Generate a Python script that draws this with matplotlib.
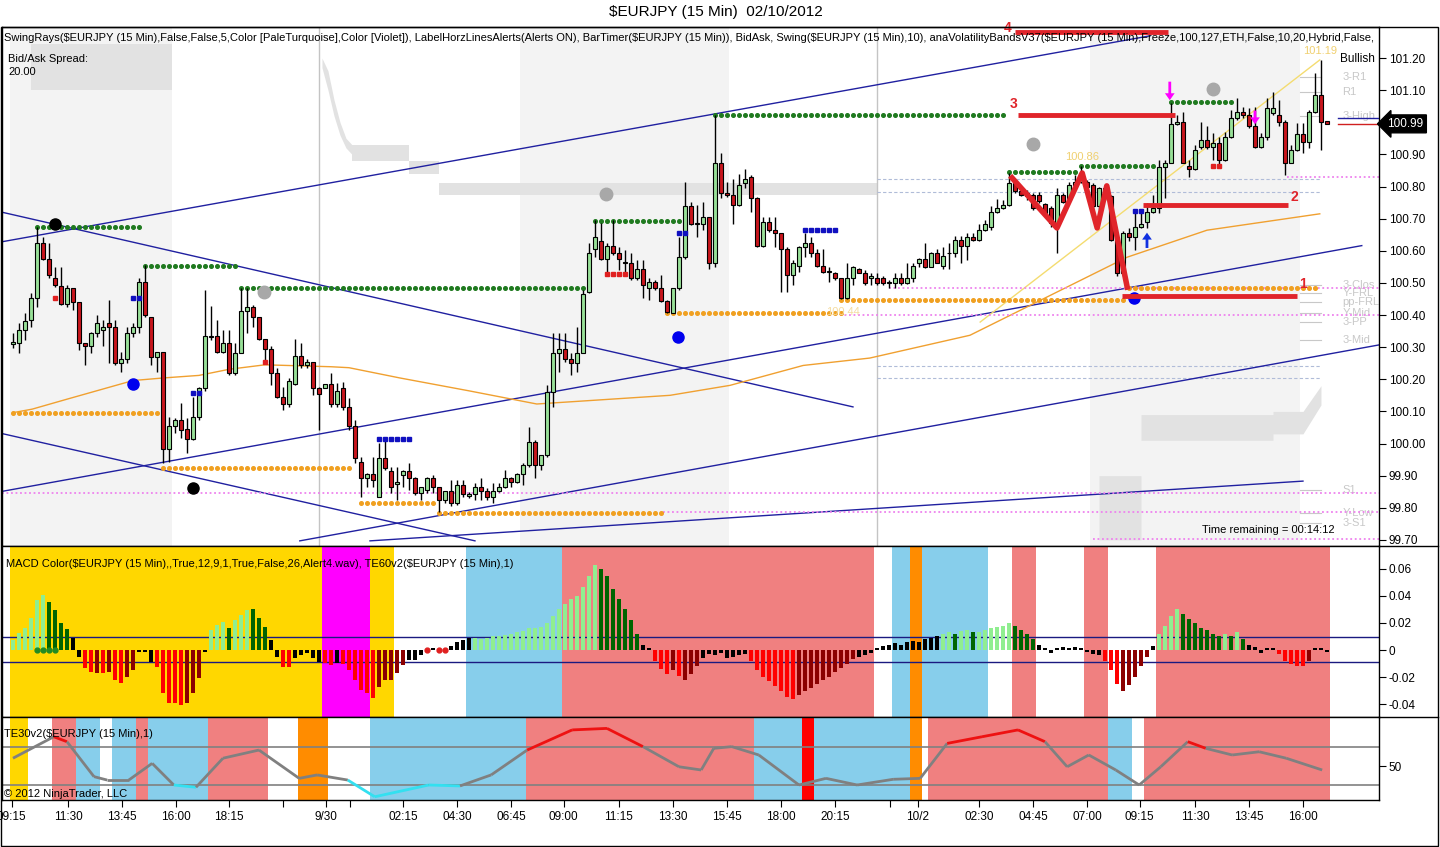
import matplotlib.pyplot as plt
import numpy as np
from matplotlib.collections import LineCollection
from matplotlib.patches import Rectangle
import matplotlib.transforms as mtransforms

plt.rcParams['font.family'] = ['Liberation Sans', 'DejaVu Sans']

W, H = 1440, 847  # Bildgroesse in Pixel

# ---------------- Kerzen (15 Min, EURJPY) ----------------
opens = [
    100.310, 100.312, 100.353, 100.385, 100.452, 100.625, 100.573, 100.514, 100.490, 100.434,
    100.483, 100.442, 100.312, 100.302, 100.343, 100.353, 100.374, 100.364, 100.252, 100.262,
    100.343, 100.364, 100.504, 100.395, 100.270, 100.286, 99.982, 100.053, 100.073, 100.044,
    100.013, 100.082, 100.172, 100.333, 100.335, 100.286, 100.312, 100.221, 100.283, 100.411,
    100.424, 100.393, 100.324, 100.293, 100.221, 100.144, 100.123, 100.184, 100.273, 100.245,
    100.255, 100.172, 100.172, 100.184, 100.123, 100.172, 100.113, 100.053, 99.944, 99.892,
    99.905, 99.835, 99.954, 99.913, 99.874, 99.902, 99.913, 99.892, 99.845, 99.856,
    99.892, 99.864, 99.824, 99.853, 99.814, 99.871, 99.837, 99.843, 99.864, 99.853,
    99.835, 99.853, 99.864, 99.892, 99.881, 99.905, 99.933, 100.006, 99.933, 99.964,
    100.161, 100.283, 100.293, 100.262, 100.252, 100.283, 100.472, 100.604, 100.631, 100.573,
    100.615, 100.592, 100.566, 100.563, 100.514, 100.542, 100.483, 100.504, 100.483, 100.445,
    100.405, 100.483, 100.581, 100.739, 100.683, 100.683, 100.704, 100.563, 100.872, 100.781,
    100.773, 100.742, 100.812, 100.830, 100.763, 100.615, 100.690, 100.664, 100.654, 100.604,
    100.524, 100.552, 100.613, 100.623, 100.592, 100.552, 100.535, 100.532, 100.514, 100.452,
    100.514, 100.542, 100.532, 100.514, 100.514, 100.514, 100.501, 100.501, 100.514, 100.501,
    100.514, 100.563, 100.573, 100.550, 100.592, 100.552, 100.592, 100.592, 100.633, 100.615,
    100.642, 100.634, 100.665, 100.675, 100.722, 100.732, 100.743, 100.812, 100.787, 100.779,
    100.774, 100.774, 100.745, 100.732, 100.686, 100.774, 100.758, 100.805, 100.815, 100.815,
    100.805, 100.738, 100.795, 100.769, 100.634, 100.530, 100.655, 100.642, 100.675, 100.691,
    100.722, 100.732, 100.862, 100.872, 100.995, 101.002, 100.864, 100.854, 100.922, 100.945,
    100.922, 100.935, 100.883, 100.953, 101.012, 101.033, 101.023, 100.987, 100.922, 100.953,
    101.028, 101.023, 101.002, 100.872, 100.914, 100.964, 100.937, 101.033, 101.085, 101.004]
highs = [
    100.343, 100.374, 100.405, 100.468, 100.675, 100.644, 100.623, 100.551, 100.551, 100.493,
    100.483, 100.442, 100.312, 100.348, 100.400, 100.385, 100.447, 100.385, 100.286, 100.364,
    100.374, 100.514, 100.556, 100.395, 100.286, 100.286, 100.084, 100.079, 100.125, 100.079,
    100.146, 100.177, 100.478, 100.428, 100.385, 100.353, 100.353, 100.312, 100.483, 100.483,
    100.431, 100.395, 100.324, 100.302, 100.234, 100.177, 100.203, 100.324, 100.312, 100.262,
    100.255, 100.177, 100.184, 100.221, 100.187, 100.193, 100.141, 100.073, 99.959, 99.907,
    99.959, 100.001, 100.011, 99.928, 99.928, 99.918, 99.939, 99.897, 99.864, 99.897,
    99.902, 99.864, 99.853, 99.887, 99.887, 99.887, 99.850, 99.876, 99.892, 99.861,
    99.876, 99.876, 99.918, 99.897, 99.909, 99.938, 100.052, 100.011, 99.964, 100.182,
    100.343, 100.343, 100.343, 100.281, 100.364, 100.478, 100.623, 100.696, 100.685, 100.623,
    100.696, 100.613, 100.602, 100.592, 100.571, 100.571, 100.514, 100.509, 100.524, 100.447,
    100.483, 100.644, 100.815, 100.753, 100.742, 100.753, 100.704, 101.022, 100.903, 100.815,
    100.822, 100.839, 100.853, 100.836, 100.768, 100.706, 100.706, 100.704, 100.654, 100.613,
    100.571, 100.615, 100.656, 100.642, 100.604, 100.604, 100.550, 100.535, 100.514, 100.563,
    100.552, 100.545, 100.540, 100.530, 100.530, 100.521, 100.509, 100.532, 100.530, 100.563,
    100.563, 100.576, 100.623, 100.597, 100.607, 100.613, 100.623, 100.646, 100.646, 100.654,
    100.655, 100.684, 100.696, 100.740, 100.760, 100.758, 100.841, 100.815, 100.795, 100.790,
    100.779, 100.784, 100.750, 100.738, 100.795, 100.779, 100.815, 100.836, 100.864, 100.820,
    100.810, 100.800, 100.802, 100.774, 100.655, 100.660, 100.670, 100.722, 100.722, 100.748,
    100.774, 100.883, 100.883, 101.059, 101.023, 101.033, 100.883, 100.930, 101.002, 100.987,
    100.966, 100.955, 100.971, 101.038, 101.075, 101.049, 101.044, 101.049, 100.966, 101.075,
    101.095, 101.070, 101.007, 100.930, 100.997, 100.997, 101.038, 101.152, 101.194, 101.004]
lows = [
    100.296, 100.283, 100.322, 100.364, 100.426, 100.571, 100.514, 100.488, 100.431, 100.426,
    100.416, 100.291, 100.245, 100.281, 100.333, 100.302, 100.250, 100.245, 100.224, 100.250,
    100.333, 100.343, 100.395, 100.245, 100.224, 99.939, 99.944, 100.032, 100.016, 99.970,
    100.011, 100.073, 100.162, 100.322, 100.281, 100.281, 100.213, 100.213, 100.281, 100.343,
    100.364, 100.322, 100.260, 100.182, 100.141, 100.105, 100.115, 100.182, 100.234, 100.234,
    100.151, 100.042, 100.172, 100.115, 100.115, 100.105, 100.042, 99.939, 99.835, 99.866,
    99.866, 99.835, 99.918, 99.845, 99.824, 99.866, 99.856, 99.840, 99.824, 99.845,
    99.845, 99.788, 99.814, 99.804, 99.809, 99.835, 99.829, 99.824, 99.824, 99.824,
    99.814, 99.850, 99.861, 99.866, 99.876, 99.871, 99.928, 99.892, 99.918, 99.959,
    100.115, 100.224, 100.255, 100.213, 100.224, 100.281, 100.467, 100.581, 100.571, 100.535,
    100.587, 100.540, 100.530, 100.509, 100.509, 100.452, 100.447, 100.478, 100.441, 100.405,
    100.405, 100.478, 100.573, 100.680, 100.644, 100.664, 100.542, 100.550, 100.763, 100.768,
    100.683, 100.739, 100.794, 100.722, 100.613, 100.613, 100.659, 100.613, 100.472, 100.472,
    100.493, 100.535, 100.581, 100.581, 100.550, 100.530, 100.504, 100.509, 100.449, 100.449,
    100.493, 100.530, 100.493, 100.493, 100.493, 100.493, 100.483, 100.483, 100.493, 100.498,
    100.504, 100.550, 100.545, 100.550, 100.561, 100.542, 100.542, 100.581, 100.563, 100.571,
    100.629, 100.629, 100.663, 100.665, 100.719, 100.730, 100.738, 100.779, 100.769, 100.758,
    100.727, 100.748, 100.707, 100.675, 100.592, 100.748, 100.753, 100.800, 100.810, 100.795,
    100.732, 100.727, 100.758, 100.629, 100.520, 100.520, 100.629, 100.603, 100.670, 100.670,
    100.717, 100.717, 100.763, 100.872, 100.992, 100.872, 100.831, 100.852, 100.916, 100.916,
    100.883, 100.857, 100.878, 100.950, 101.007, 101.012, 100.982, 100.919, 100.919, 100.945,
    101.023, 100.987, 100.836, 100.872, 100.909, 100.904, 100.919, 101.030, 100.914, 100.995]
closes = [
    100.315, 100.353, 100.382, 100.452, 100.625, 100.573, 100.525, 100.493, 100.434, 100.483,
    100.442, 100.312, 100.302, 100.343, 100.374, 100.364, 100.362, 100.252, 100.262, 100.343,
    100.364, 100.504, 100.400, 100.270, 100.286, 99.982, 100.053, 100.073, 100.042, 100.013,
    100.084, 100.172, 100.335, 100.335, 100.286, 100.312, 100.221, 100.283, 100.411, 100.424,
    100.393, 100.324, 100.293, 100.221, 100.144, 100.123, 100.195, 100.273, 100.245, 100.255,
    100.172, 100.154, 100.184, 100.123, 100.164, 100.113, 100.053, 99.954, 99.892, 99.905,
    99.887, 99.954, 99.923, 99.866, 99.881, 99.913, 99.892, 99.845, 99.864, 99.892,
    99.864, 99.824, 99.853, 99.814, 99.871, 99.843, 99.843, 99.864, 99.853, 99.835,
    99.853, 99.866, 99.892, 99.881, 99.905, 99.933, 100.006, 99.933, 99.964, 100.161,
    100.283, 100.293, 100.262, 100.252, 100.283, 100.465, 100.592, 100.642, 100.573, 100.615,
    100.592, 100.573, 100.561, 100.514, 100.542, 100.493, 100.504, 100.483, 100.445, 100.410,
    100.483, 100.581, 100.739, 100.683, 100.684, 100.704, 100.563, 100.872, 100.781, 100.773,
    100.742, 100.805, 100.822, 100.763, 100.615, 100.690, 100.664, 100.656, 100.604, 100.524,
    100.563, 100.613, 100.623, 100.592, 100.552, 100.535, 100.536, 100.514, 100.452, 100.514,
    100.550, 100.532, 100.501, 100.521, 100.501, 100.501, 100.502, 100.514, 100.501, 100.514,
    100.552, 100.573, 100.550, 100.592, 100.563, 100.584, 100.593, 100.633, 100.615, 100.644,
    100.634, 100.665, 100.684, 100.722, 100.732, 100.743, 100.812, 100.787, 100.774, 100.769,
    100.732, 100.756, 100.717, 100.686, 100.774, 100.753, 100.805, 100.815, 100.841, 100.800,
    100.738, 100.795, 100.769, 100.634, 100.530, 100.655, 100.642, 100.675, 100.683, 100.722,
    100.732, 100.862, 100.872, 100.995, 101.002, 100.872, 100.854, 100.914, 100.945, 100.922,
    100.935, 100.883, 100.953, 101.012, 101.033, 101.023, 100.987, 100.922, 100.953, 101.044,
    101.044, 101.002, 100.872, 100.914, 100.964, 100.937, 101.033, 101.085, 101.002, 100.995]

# ---------------- MACD Histogramm ----------------
macd = [
    0.0074, 0.0123, 0.016, 0.0235, 0.037, 0.0407, 0.0358, 0.0296, 0.0198, 0.0153,
    0.0086, -0.0049, -0.0136, -0.016, -0.0173, -0.0173, -0.016, -0.0222, -0.0247, -0.0198,
    -0.0148, -0.0015, -0.0005, -0.0086, -0.0123, -0.032, -0.0395, -0.0395, -0.0407, -0.0395,
    -0.032, -0.021, -0.0007, 0.0148, 0.0185, 0.021, 0.016, 0.0222, 0.0259, 0.0296,
    0.0301, 0.0235, 0.0168, 0.0074, -0.0049, -0.0123, -0.0123, -0.0062, -0.0037, -0.002,
    -0.0062, -0.0086, -0.0099, -0.0111, -0.0094, -0.0104, -0.0148, -0.0222, -0.0296, -0.032,
    -0.0358, -0.0272, -0.0222, -0.0222, -0.0173, -0.0111, -0.0074, -0.0074, -0.0037, -0.0005,
    0.0012, -0.0007, -0.0007, 0.003, 0.0062, 0.0074, 0.0086, 0.0086, 0.008, 0.009,
    0.010, 0.010, 0.011, 0.012, 0.013, 0.014, 0.016, 0.016, 0.017, 0.020,
    0.025, 0.030, 0.034, 0.038, 0.040, 0.047, 0.055, 0.063, 0.060, 0.055,
    0.045, 0.038, 0.030, 0.022, 0.012, 0.004, 0.001, -0.008, -0.014, -0.018,
    -0.015, -0.019, -0.022, -0.018, -0.012, -0.006, -0.003, -0.004, -0.002, -0.006,
    -0.005, -0.004, -0.003, -0.008, -0.015, -0.020, -0.023, -0.027, -0.030, -0.035,
    -0.036, -0.033, -0.030, -0.028, -0.025, -0.022, -0.020, -0.016, -0.013, -0.010,
    -0.007, -0.005, -0.004, -0.002, 0.001, 0.003, 0.004, 0.005, 0.004, 0.006,
    0.007, 0.006, 0.008, 0.009, 0.010, 0.012, 0.013, 0.012, 0.014, 0.015,
    0.013, 0.013, 0.015, 0.016, 0.017, 0.018, 0.020, 0.018, 0.015, 0.012,
    0.008, 0.004, 0.001, -0.002, 0.001, 0.002, 0.001, 0.002, 0.001, -0.001,
    -0.003, -0.004, -0.008, -0.015, -0.025, -0.030, -0.026, -0.020, -0.012, -0.005,
    0.003, 0.012, 0.018, 0.025, 0.030, 0.027, 0.023, 0.020, 0.016, 0.015,
    0.012, 0.010, 0.012, 0.010, 0.013, 0.008, 0.004, 0.002, -0.002, 0.001,
    0.001, -0.003, -0.008, -0.010, -0.012, -0.012, -0.008, 0.001, 0.001, -0.001]
# g hellgruen, G dunkelgruen, r rot, R dunkelrot, k schwarz
macd_col = ("ggggggGGGG" "kkrrRrRrrR" "RkkkrrrrrR" "RRkgggGggg" "GGGkkrrkkk"
            "kkrrkrrrrr" "rRRRRRkkkr" "krrkkkkg" "gg" "gggggggggg"
            "ggggggggGG" "GGGGGkkrrr" "RrRRRkkkkk" "kkkrrrrrrr" "rRRRRRRRRR"
            "Rkkkkkkkkk" "kkkkkggGgg" "GggggggGGG" "Gkkkkkkkkk" "kkrrrRRRRR"
            "kggggGGGGG" "GGgGgGkkkk" "krrrrrRkkk")
macd_dots_green = [4, 5, 6, 7]
macd_dots_red = [69, 71, 72]

# Hintergrund-Zustaende (Balkenindex von, bis, Farbe)
macd_bg = [(-0.5, 51.5, '#FFD700'), (51.5, 59.5, '#FF00FF'), (59.5, 63.5, '#FFD700'),
           (75.5, 91.5, '#87CEEB'), (91.5, 143.5, '#F08080'), (146.5, 149.5, '#87CEEB'),
           (149.5, 151.5, '#FF8C00'), (151.5, 162.5, '#87CEEB'), (166.5, 170.5, '#F08080'),
           (178.5, 182.5, '#F08080'), (190.5, 219.5, '#F08080')]
te_bg = [(-0.5, 2.5, '#FFD700'), (6.5, 10.5, '#F08080'), (10.5, 14.5, '#87CEEB'),
         (16.5, 20.5, '#87CEEB'), (20.5, 22.5, '#F08080'), (22.5, 32.5, '#87CEEB'),
         (32.5, 42.5, '#F08080'), (47.5, 52.5, '#FF8C00'), (59.5, 85.5, '#87CEEB'),
         (85.5, 123.5, '#F08080'), (123.5, 131.5, '#87CEEB'), (131.5, 133.5, '#FF0000'),
         (133.5, 149.5, '#87CEEB'), (149.5, 151.5, '#FF8C00'), (152.5, 182.5, '#F08080'),
         (182.5, 186.5, '#87CEEB'), (188.5, 219.5, '#F08080')]

# TE30 Linie (Stuetzpunkte)
te_x = [0, 6.8, 9, 13.5, 15.7, 19.3, 23.2, 26.8, 30.5, 35, 41, 47.7, 50.7, 55.8, 60.3,
        69.3, 74.5, 79.7, 85.7, 93.2, 99, 105, 111, 114.7, 116.8, 119.8, 124.3, 131,
        135.5, 140.7, 146.7, 151.2, 155.7, 161.5, 167.5, 172, 175.7, 179.3, 183.8,
        187.7, 191.3, 195.8, 198.8, 203.2, 207.7, 212.2, 218.2]
te_v = [54.1, 65.4, 62.8, 44.4, 42.6, 42.6, 51.4, 40.0, 38.8, 54.1, 58.4, 43.5, 45.3,
        42.6, 33.8, 40.0, 39.5, 45.3, 58.4, 69.0, 69.8, 60.2, 49.6, 47.9, 59.3, 60.2,
        55.8, 40.0, 43.5, 40.0, 43.0, 43.5, 61.9, 65.4, 69.0, 62.8, 49.6, 55.8, 47.9,
        40.0, 49.6, 62.8, 59.3, 55.8, 57.5, 54.1, 47.9]

# gleitender Durchschnitt (orange) und obere Baender
ma_x = [0, 3.2, 9, 20, 25, 31, 36, 42, 53, 56, 64.5, 76, 87.3, 109.5, 119.5, 131.7, 142.8,
        159.5, 185.7, 199, 217.8]
ma_p = [100.096, 100.107, 100.138, 100.196, 100.204, 100.212, 100.231, 100.245, 100.239,
        100.236, 100.204, 100.164, 100.123, 100.150, 100.181, 100.243, 100.266, 100.337,
        100.580, 100.664, 100.715]
yel_x = [161.2, 217.8]
yel_p = [100.378, 101.194]

# Volatilitaetsband (grau)
vb_x = [[3.0, 26.5],
        [51.5, 52.5, 53.5, 54.5, 55.5, 56.5],
        [56.5, 66, 66, 71, 71, 144],
        [181, 188, 188, 210, 210, 215, 218]]
vb_hi = [[101.245, 101.245],
         [101.20, 101.16, 101.07, 101.00, 100.95, 100.93],
         [100.93, 100.93, 100.88, 100.88, 100.81, 100.81],
         [99.90, 99.90, 100.09, 100.09, 100.10, 100.10, 100.18]]
vb_lo = [[101.10, 101.10],
         [101.17, 101.10, 101.02, 100.96, 100.92, 100.90],
         [100.88, 100.88, 100.84, 100.84, 100.775, 100.775],
         [99.70, 99.70, 100.01, 100.01, 100.03, 100.03, 100.12]]

sess_bg = [(-0.5, 26.5), (84.5, 119.3), (179.5, 214.5)]
day_lines = [51.0, 144.0]

# Trendlinien (x0, p0, x1, p1)
trend_lines = [(-1.83, 100.628, 189.5, 101.269),
               (-1.83, 100.720, 140.0, 100.114),
               (-1.83, 100.031, 77.0, 99.697),
               (-1.83, 99.851, 224.8, 100.616),
               (47.8, 99.697, 227.7, 100.307),
               (59.5, 99.697, 215.0, 99.883)]

# Swing-Linien (von, bis, Preis)
swing_hi = [(4, 21, 100.675), (22, 37, 100.554), (38, 95, 100.485), (97, 111, 100.694),
            (117, 165, 101.023), (166, 177, 100.846), (178, 190, 100.864), (193, 203, 101.064)]
swing_lo = [(0, 24, 100.096), (25, 56, 99.925), (58, 70, 99.816), (71, 108, 99.785),
            (109, 138, 100.405), (138, 185, 100.447), (186, 217, 100.485)]
ray_lines = [(212.3, 100.831), (146, 100.485), (137.8, 100.401), (-1.8, 99.845),
             (108.3, 99.788), (180, 99.703)]
pivot_dash = [100.823, 100.783, 100.242, 100.204]
pivot_lab = [('3-R1', 101.141), ('R1', 101.094), ('3-High', 101.019), ('3-Clos', 100.493),
             ('Y-FRL', 100.469), ('pp-FRL', 100.441), ('Y-Mid', 100.406), ('3-PP', 100.378),
             ('3-Mid', 100.322), ('S1', 99.855), ('Y-Low', 99.784), ('3-S1', 99.753)]

# rote Handlinien 1..4
red_lines = [('4', 167, 192.5, 101.281, 165.8, 101.293), ('3', 167.5, 193.7, 101.023, 166.8, 101.057),
             ('2', 188.3, 212.5, 100.742, 213.5, 100.767), ('1', 184.8, 214.0, 100.459, 215.0, 100.497)]
zig_x = [166.5, 174.0, 178.2, 180.7, 182.3, 185.7]
zig_p = [100.827, 100.671, 100.842, 100.671, 100.802, 100.487]

black_dots = [(7, 100.683), (30, 99.862)]
blue_dots = [(20, 100.185), (110.8, 100.332), (186.8, 100.453)]
gray_dots = [(41.8, 100.472), (98.8, 100.777), (170, 100.932), (200, 101.104)]
blue_sq = [(20, 100.454), (21, 100.454), (30, 100.157), (31, 100.157), (61, 100.014), (62, 100.014),
           (63, 100.014), (64, 100.014), (65, 100.014), (66, 100.014), (111, 100.655), (112, 100.655),
           (132, 100.665), (133, 100.665), (134, 100.665), (135, 100.665), (136, 100.665), (137, 100.665),
           (187, 100.724), (188, 100.724)]
red_sq = [(7, 100.453), (42, 100.255), (99, 100.528), (100, 100.528), (101, 100.528), (102, 100.528),
          (200, 100.864), (201, 100.864)]

xtick_pos = [-0.2, 9.2, 18.2, 27.2, 36, 45, 52.2, 56.2, 65, 74, 83, 91.8, 101, 110, 119, 128, 137,
             146.2, 150.8, 161, 170, 179, 187.8, 197, 206, 215]
xtick_lab = ['09:15', '11:30', '13:45', '16:00', '18:15', '', '9/30', '', '02:15', '04:30', '06:45',
             '09:00', '11:15', '13:30', '15:45', '18:00', '20:15', '', '10/2', '02:30', '04:45',
             '07:00', '09:15', '11:30', '13:45', '16:00']

last_price = 100.99


def px_rect(x0, y0, x1, y1):
    return [x0 / W, 1 - y1 / H, (x1 - x0) / W, (y1 - y0) / H]


def esc(s):
    return s.replace('$', r'\$')


fig = plt.figure(figsize=(W / 100, H / 100), dpi=100)
ax1 = fig.add_axes(px_rect(2, 27, 1379, 546))
ax2 = fig.add_axes(px_rect(2, 546, 1379, 717), sharex=ax1)
ax3 = fig.add_axes(px_rect(2, 717, 1379, 800), sharex=ax1)

idx = np.arange(len(closes))
o = np.array(opens); c = np.array(closes); hi = np.array(highs); lo = np.array(lows)

# ---------- Hauptchart ----------
for a, b in sess_bg:
    ax1.axvspan(a, b, color='#f3f3f3', lw=0, zorder=0)
for xs, up, dn in zip(vb_x, vb_hi, vb_lo):
    ax1.fill_between(xs, dn, up, color='#e2e2e2', lw=0, zorder=0.5)
for d in day_lines:
    ax1.axvline(d, color='#c4c4c4', lw=1, zorder=0.6)

for y in pivot_dash:
    ax1.plot([144, 217.8], [y, y], color='#b0bcd8', lw=0.8, ls=(0, (3, 2)), zorder=1)
for lab, y in pivot_lab:
    ax1.plot([214.5, 218], [y, y], color='#c8c8c8', lw=0.8, zorder=1)
    ax1.text(221.6, y, lab, color='#c8c8c8', fontsize=8, va='center', ha='left', zorder=1)

for x0, p0, x1, p1 in trend_lines:
    ax1.plot([x0, x1], [p0, p1], color='#2020a0', lw=1, zorder=2)
ax1.plot(ma_x, ma_p, color='#f0a030', lw=1, zorder=2)
ax1.plot(yel_x, yel_p, color='#f4dc70', lw=1, zorder=2)

for x0, p in ray_lines:
    ax1.plot([x0, 227.7], [p, p], color='#ee82ee', lw=1.3, ls=(0, (1, 1.5)), zorder=2)
for x0, x1, p in swing_hi:
    xs = np.arange(x0, x1 + 1)
    ax1.plot(xs, np.full(len(xs), p), ls='none', marker='o', ms=2.6, color='#1f7a1f', zorder=3)
for x0, x1, p in swing_lo:
    xs = np.arange(x0, x1 + 1)
    ax1.plot(xs, np.full(len(xs), p), ls='none', marker='o', ms=2.6, color='#f0a020', zorder=3)

# Kerzen
up = c >= o
ax1.vlines(idx, lo, hi, color='black', lw=1, zorder=4)
body_lo = np.minimum(o, c)
body_h = np.maximum(np.abs(c - o), 0.002)
ax1.bar(idx[up], body_h[up], bottom=body_lo[up], width=0.7, color='#98e098', edgecolor='black',
        lw=0.8, zorder=5)
ax1.bar(idx[~up], body_h[~up], bottom=body_lo[~up], width=0.7, color='#c8161d', edgecolor='black',
        lw=0.8, zorder=5)

for x, p in black_dots:
    ax1.plot(x, p, 'o', color='black', ms=8, zorder=6)
for x, p in blue_dots:
    ax1.plot(x, p, 'o', color='#0000ee', ms=8, zorder=6)
for x, p in gray_dots:
    ax1.plot(x, p, 'o', color='#a8a8a8', ms=9, zorder=6)
ax1.plot([x for x, p in blue_sq], [p for x, p in blue_sq], 's', color='#1010c0', ms=3.2, zorder=6)
ax1.plot([x for x, p in red_sq], [p for x, p in red_sq], 's', color='#e02020', ms=3.2, zorder=6)

# rote Linien und Zickzack
for lab, x0, x1, p, lx, lp in red_lines:
    ax1.plot([x0, x1], [p, p], color='#e0242a', lw=3.5, solid_capstyle='butt', zorder=7)
    ax1.text(lx, lp, lab, color='#e0242a', fontsize=10, fontweight='bold', ha='center',
             va='center', zorder=7, clip_on=False)
ax1.plot(zig_x, zig_p, color='#e0242a', lw=4, zorder=7)

# Pfeile
for x, p0, p1, col in [(192.8, 101.135, 101.06, '#ff00ff'), (207.0, 101.045, 100.985, '#ff00ff'),
                       (189.0, 100.60, 100.665, '#1030e0')]:
    ax1.annotate('', xy=(x, p1), xytext=(x, p0),
                 arrowprops=dict(arrowstyle='simple,head_width=0.7,head_length=0.5',
                                 color=col, lw=0), zorder=8)

ax1.text(217.8, 101.222, '101.19', color='#f0d070', fontsize=8, ha='center', va='center')
ax1.text(178.2, 100.892, '100.86', color='#f0d070', fontsize=8, ha='center', va='center')
ax1.text(138.3, 100.41, '100.44', color='#f4dca0', fontsize=8, ha='center', va='center')
ax1.text(220.2, 99.731, 'Time remaining = 00:14:12', fontsize=8, ha='right', va='center')

ax1.plot([220.8, 227.7], [101.013, 101.013], color='#2020a0', lw=1, zorder=3)
ax1.plot([220.8, 227.7], [last_price + 0.005, last_price + 0.005], color='#d02020', lw=1, zorder=3)
trans = mtransforms.blended_transform_factory(ax1.transAxes, ax1.transData)
ax1.text(1.006, last_price + 0.005, '%.2f' % last_price, transform=trans, color='white',
         fontsize=8.5, va='center', ha='left', zorder=10, clip_on=False,
         bbox=dict(boxstyle='larrow,pad=0.25', fc='black', ec='black'))

ax1.set_xlim(-1.83, 227.67)
ax1.set_ylim(99.681, 101.2965)
ax1.set_yticks(np.round(np.arange(99.70, 101.21, 0.10), 2))
ax1.yaxis.set_major_formatter(plt.FormatStrFormatter('%.2f'))

# ---------- MACD ----------
for a, b, col in macd_bg:
    ax2.axvspan(a, b, color=col, lw=0, zorder=0)
cmap = {'g': '#90ee90', 'G': '#006400', 'r': '#ff0000', 'R': '#8b0000', 'k': '#000000'}
mv = np.array(macd)
mv = np.where(np.abs(mv) < 0.0012, np.sign(mv + 1e-9) * 0.0012, mv)
ax2.bar(idx, mv, width=0.7, color=[cmap[k] for k in macd_col], lw=0, zorder=2)
ax2.plot(macd_dots_green, np.zeros(len(macd_dots_green)), 'o', color='#228b22', ms=3.5, zorder=3)
ax2.plot(macd_dots_red, np.zeros(len(macd_dots_red)), 'o', color='#e02020', ms=3.5, zorder=3)
ax2.axhline(0.0095, color='#1a1a80', lw=1, zorder=1)
ax2.axhline(-0.009, color='#1a1a80', lw=1, zorder=1)
ax2.set_ylim(-0.0496, 0.077)
ax2.set_yticks([-0.04, -0.02, 0, 0.02, 0.04, 0.06])
ax2.set_yticklabels(['-0.04', '-0.02', '0', '0.02', '0.04', '0.06'])

# ---------- TE30 ----------
for a, b, col in te_bg:
    ax3.axvspan(a, b, color=col, lw=0, zorder=0)
ax3.axhline(60, color='#808080', lw=1.2, zorder=1)
ax3.axhline(40, color='#808080', lw=1.2, zorder=1)
pts = np.column_stack([te_x, te_v])
segs = np.stack([pts[:-1], pts[1:]], axis=1)
mid = (np.array(te_v[:-1]) + np.array(te_v[1:])) / 2
seg_col = ['#ee1111' if m > 60 else ('#33e0f0' if m < 40 else '#808080') for m in mid]
ax3.add_collection(LineCollection(segs, colors=seg_col, linewidths=2, zorder=2))
ax3.set_ylim(32.1, 75.8)
ax3.set_yticks([50])

# ---------- Achsen ----------
for ax in (ax1, ax2, ax3):
    ax.yaxis.tick_right()
    ax.tick_params(axis='y', direction='out', length=5, labelsize=8.5, pad=2)
    for s in ax.spines.values():
        s.set_color('black'); s.set_linewidth(1)
for ax in (ax1, ax2):
    ax.tick_params(axis='x', bottom=False, labelbottom=False)
ax3.set_xticks(xtick_pos)
ax3.set_xticklabels(xtick_lab)
ax3.tick_params(axis='x', direction='out', length=5, labelsize=8.5, pad=3)

# ---------- Texte ----------
fig.text(716 / W, 1 - 12 / H, esc('$EURJPY (15 Min)  02/10/2012'), fontsize=11, ha='center',
         va='center')
hdr = ('SwingRays($EURJPY (15 Min),False,False,5,Color [PaleTurquoise],Color [Violet]), '
       'LabelHorzLinesAlerts(Alerts ON), BarTimer($EURJPY (15 Min)), BidAsk, '
       'Swing($EURJPY (15 Min),10), anaVolatilityBandsV37($EURJPY (15 Min),Freeze,100,127,'
       'ETH,False,10,20,Hybrid,False,')
fig.text(4 / W, 1 - 38 / H, esc(hdr), fontsize=8, ha='left', va='center')
fig.text(8 / W, 1 - 59 / H, 'Bid/Ask Spread:', fontsize=8, ha='left', va='center')
fig.text(8 / W, 1 - 72 / H, '20.00', fontsize=8, ha='left', va='center')
fig.text(1340 / W, 1 - 59 / H, 'Bullish', fontsize=8.5, ha='left', va='center')
fig.text(6 / W, 1 - 564 / H,
         esc('MACD Color($EURJPY (15 Min),,True,12,9,1,True,False,26,Alert4.wav), '
             'TE60v2($EURJPY (15 Min),1)'), fontsize=8, ha='left', va='center')
fig.text(4 / W, 1 - 734 / H, esc('TE30v2($EURJPY (15 Min),1)'), fontsize=8, ha='left', va='center')
fig.text(4 / W, 1 - 794 / H, '\u00a9 2012 NinjaTrader, LLC', fontsize=8, ha='left', va='center')

# Rahmen
fig.add_artist(Rectangle((1 / W, 1 - 846 / H), 1437 / W, 819 / H, transform=fig.transFigure,
                         fill=False, ec='black', lw=1))
for yy in (546, 717):
    fig.add_artist(plt.Line2D([1379 / W, 1438 / W], [1 - yy / H, 1 - yy / H],
                              transform=fig.transFigure, color='black', lw=1))

fig.savefig('out.png', dpi=100)
